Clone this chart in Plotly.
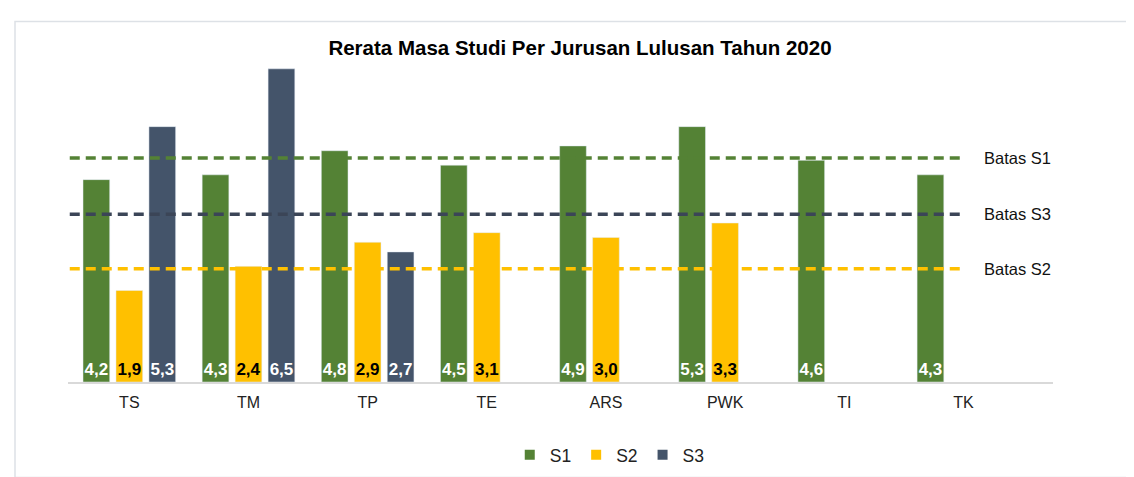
import plotly.graph_objects as go

CATEGORIES = ["TS", "TM", "TP", "TE", "ARS", "PWK", "TI", "TK"]
S1 = [4.2, 4.3, 4.8, 4.5, 4.9, 5.3, 4.6, 4.3]
S2 = [1.9, 2.4, 2.9, 3.1, 3.0, 3.3, None, None]
S3 = [5.3, 6.5, 2.7, None, None, None, None, None]
BATAS_NAMES = ["Batas S1", "Batas S3", "Batas S2"]
BATAS_VALUES = [4.65, 3.48, 2.35]

FONT = "Liberation Sans, Arial, sans-serif"
C_S1 = "#548235"
C_S2 = "#FFC000"
C_S3 = "#44546A"
BATAS_COLORS = [C_S1, "#3B4557", C_S2]


def labels(vals):
    return ["" if v is None else f"{v:.1f}".replace(".", ",") for v in vals]


fig = go.Figure()
for name, vals, color, tcolor in [("S1", S1, C_S1, "white"),
                                   ("S2", S2, C_S2, "black"),
                                   ("S3", S3, C_S3, "white")]:
    fig.add_trace(go.Bar(
        x=CATEGORIES, y=vals, name=name, marker_color=color,
        text=labels(vals), textposition="inside", insidetextanchor="start",
        textangle=0, constraintext="none",
        textfont=dict(family=FONT, size=17, color=tcolor, weight="bold"),
        showlegend=False, hoverinfo="skip",
    ))
    # legend proxy
    fig.add_trace(go.Scatter(
        x=[None], y=[None], mode="markers", name=name,
        marker=dict(symbol="square", size=10, color=color),
    ))

last = len(CATEGORIES) - 1
for name, val, color in zip(BATAS_NAMES, BATAS_VALUES, BATAS_COLORS):
    fig.add_shape(type="line", xref="x", yref="y", x0=-0.5, x1=last,
                  y0=val, y1=val, line=dict(color=color, width=3.5, dash="10px,6px"))
    fig.add_annotation(x=last + 0.156, y=val, xref="x", yref="y", text=name,
                       showarrow=False, xanchor="left", yanchor="middle",
                       font=dict(family=FONT, size=16.5, color="#111111"))

# outer chart border
fig.add_shape(type="rect", xref="paper", yref="paper",
              x0=-0.0538, x1=1.1, y0=-0.3, y1=1.134,
              line=dict(color="#DDE1E6", width=1.5), layer="below")

fig.update_layout(
    width=1134, height=477,
    margin=dict(l=60, r=89, t=56, b=93),
    paper_bgcolor="white", plot_bgcolor="white",
    barmode="group", bargap=0.17, bargroupgap=0.19,
    title=dict(text="<b>Rerata Masa Studi Per Jurusan Lulusan Tahun 2020</b>",
               x=572 / 1134, xref="container", xanchor="center",
               y=1 - 40 / 477, yanchor="middle",
               font=dict(family=FONT, size=20.5, color="#000000")),
    font=dict(family=FONT, color="#222222"),
    legend=dict(orientation="h", x=0.55, xanchor="center", y=-0.229,
                yanchor="middle", font=dict(family=FONT, size=17.5, color="#222222")),
    showlegend=True,
)
fig.update_xaxes(showline=True, linecolor="#D9D9D9", linewidth=1.5, ticks="",
                 tickfont=dict(family=FONT, size=16, color="#222222"),
                 ticklabelstandoff=5, showgrid=False, zeroline=False)
fig.update_yaxes(range=[0, 6.6], visible=False, showgrid=False, zeroline=False)

fig.write_html("out.html")
